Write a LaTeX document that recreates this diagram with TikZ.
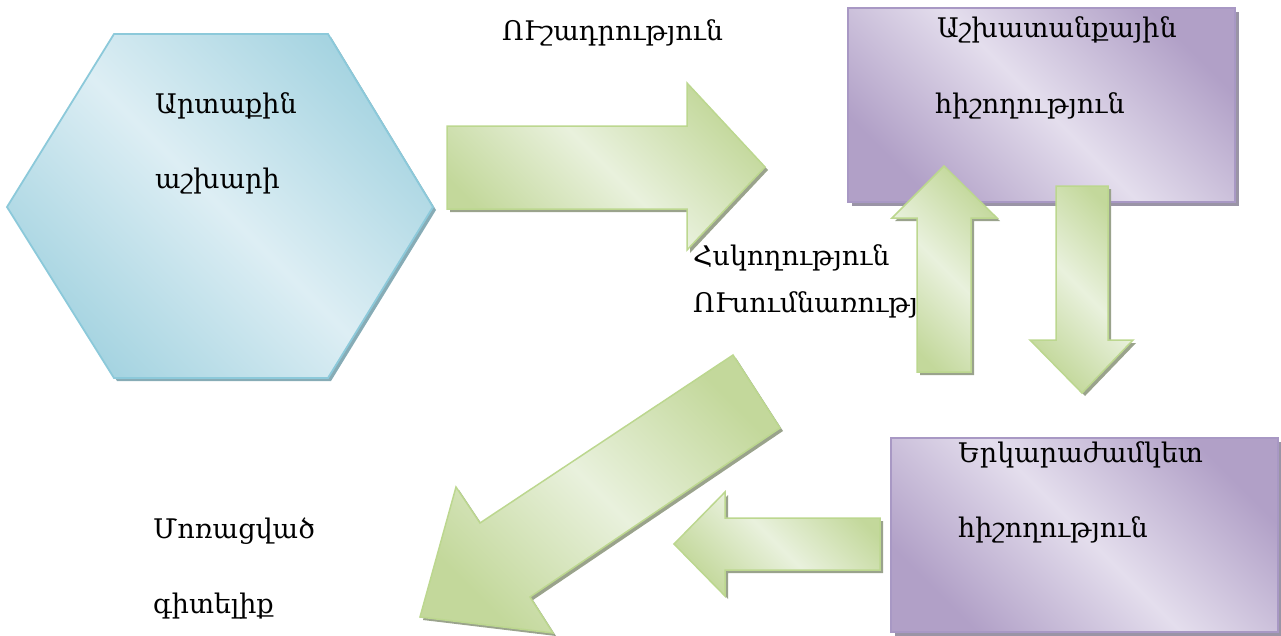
\documentclass[tikz,border=0pt]{standalone}
\usepackage{fontspec}
\setmainfont{DejaVu Serif}
\usetikzlibrary{shadows}

\definecolor{hexdark}{HTML}{A6D4E1}
\definecolor{hexlight}{HTML}{DDEEF4}
\definecolor{hexline}{HTML}{8CC9DA}
\definecolor{arrdark}{HTML}{C3D89B}
\definecolor{arrlight}{HTML}{E9F1DD}
\definecolor{arrline}{HTML}{BCD78F}
\definecolor{memdark}{HTML}{B1A0C7}
\definecolor{memlight}{HTML}{E4DEED}
\definecolor{memline}{HTML}{A898C4}
\definecolor{arrshadow}{HTML}{9AA38C}
\definecolor{memshadow}{HTML}{9A94A6}

\tikzset{
  world/.style={draw=hexline, line width=1.8pt, top color=hexdark, bottom color=hexdark,
    middle color=hexlight, shading angle=-45,
    drop shadow={shadow xshift=3pt, shadow yshift=-3pt, fill=hexline!60!gray, opacity=1}},
  blockarrow/.style={draw=arrline, line width=1.5pt, top color=arrdark, bottom color=arrdark,
    middle color=arrlight, shading angle=-45,
    drop shadow={shadow xshift=3pt, shadow yshift=-3pt, fill=arrshadow, opacity=1}},
  membox/.style={draw=memline, line width=1.8pt, top color=memdark, bottom color=memdark,
    middle color=memlight, shading angle=-45, minimum width=387pt, minimum height=194pt,
    inner sep=0pt, drop shadow={shadow xshift=4pt, shadow yshift=-4pt, fill=memshadow, opacity=1}},
  armtext/.style={font=\fontsize{27}{30}\selectfont, inner sep=0pt, anchor=base west}
}

\begin{document}
\begin{tikzpicture}[x=1pt,y=-1pt]
\useasboundingbox (0,0) rectangle (1281,635);

% outer world
\path [world] (114,34) -- (328,34) -- (433,207) -- (328,378) -- (114,378) -- (7,207) -- cycle;
\node [armtext] (outer1) at (155,113) {Արտաքին};
\node [armtext] (outer2) at (155,188) {աշխարի};

% memory boxes
\node [membox] (working) at (1041.5,105) {};
\node [membox] (longterm) at (1084.5,535) {};
\node [armtext] (work1) at (937,37) {Աշխատանքային};
\node [armtext] (work2) at (935,113) {հիշողություն};
\node [armtext] (long1) at (958,462) {Երկարաժամկետ};
\node [armtext] (long2) at (958,537) {հիշողություն};

% texts between the arrows
\node [armtext] (attention) at (502,40) {ՈՒշադրություն};
\node [armtext] (control) at (693,265) {Հսկողություն};
\node [armtext] (learning) at (693,312) {ՈՒսումնառություն};
\node [armtext] (forgot1) at (153,538) {Մոռացված};
\node [armtext] (forgot2) at (153,613) {գիտելիք};

% block arrows
\path [blockarrow] (447,126) -- (687,126) -- (687,83) -- (765,167) -- (687,250) -- (687,209) -- (447,209) -- cycle;
\path [blockarrow] (917,372) -- (917,218) -- (892,218) -- (944,166) -- (997,218) -- (971,218) -- (971,372) -- cycle;
\path [blockarrow] (1056,186) -- (1108,186) -- (1108,340) -- (1133,340) -- (1082,393) -- (1030,340) -- (1056,340) -- cycle;
\path [blockarrow] (880,518) -- (725,518) -- (725,492) -- (674,544) -- (725,596) -- (725,570) -- (880,570) -- cycle;
\path [blockarrow] (733,355) -- (780,428) -- (530,597) -- (553,633) -- (420,617) -- (456,487) -- (480,523) -- cycle;
\end{tikzpicture}
\end{document}
